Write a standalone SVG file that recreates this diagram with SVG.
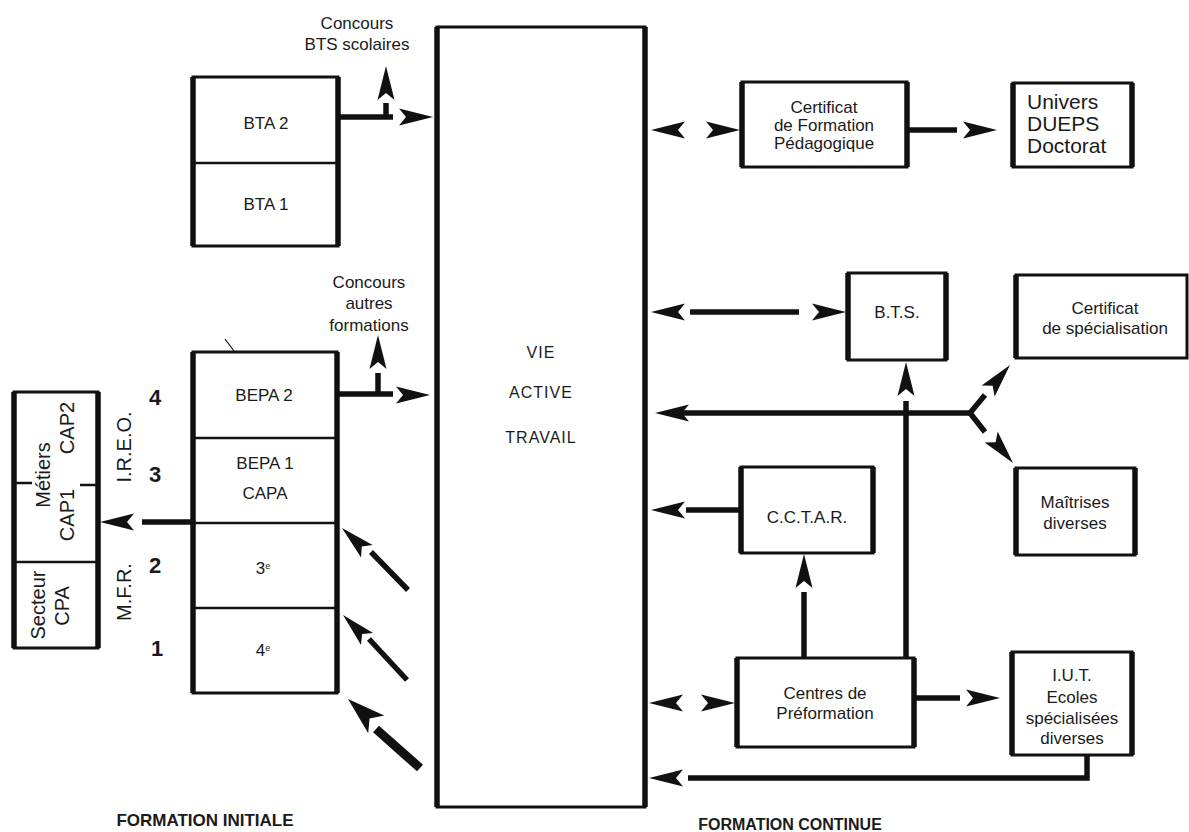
<svg xmlns="http://www.w3.org/2000/svg" xmlns:xlink="http://www.w3.org/1999/xlink" width="1189" height="832" viewBox="0 0 1189 832">
<style>
  .bx{fill:#fff;stroke:#111;stroke-width:3}
  .side{stroke:#111;stroke-width:5.5;fill:none}
  .div{stroke:#111;stroke-width:2.5}
  .t{font-family:"Liberation Sans",Arial,sans-serif;font-size:17px;fill:#1a1a1a;text-anchor:middle}
  .big{font-family:"Liberation Sans",Arial,sans-serif;font-size:21px;fill:#1a1a1a}
  .vie{font-family:"Liberation Sans",Arial,sans-serif;font-size:16px;fill:#1a1a1a;text-anchor:middle;letter-spacing:1px}
  .num{font-family:"Liberation Sans",Arial,sans-serif;font-size:22px;font-weight:bold;fill:#1a1a1a;text-anchor:middle}
  .rot{font-family:"Liberation Sans",Arial,sans-serif;font-size:20px;fill:#1a1a1a;text-anchor:middle}
  .ttl{font-family:"Liberation Sans",Arial,sans-serif;font-weight:bold;fill:#1a1a1a;text-anchor:middle}
  .sh{stroke:#111;stroke-width:5.5;fill:none;stroke-linecap:butt}
  .shk{stroke:#111;stroke-width:9;fill:none;stroke-linecap:butt}
  .ah{fill:#111}
</style>
<defs>
  <path id="ah" d="M0,0 L-34,-8.5 L-27,0 L-34,8.5 Z"/>
  <path id="ahk" d="M0,0 L-38,-12 L-29,0 L-38,12 Z"/>
</defs>
<rect width="1189" height="832" fill="#fff"/>

<g id="vie">
  <rect class="bx" x="437" y="27" width="208" height="780"/>
  <line class="side" x1="437" y1="27" x2="437" y2="807"/>
  <line class="side" x1="645" y1="27" x2="645" y2="807"/>
  <text class="vie" x="541" y="358">VIE</text>
  <text class="vie" x="541" y="398">ACTIVE</text>
  <text class="vie" x="541" y="443">TRAVAIL</text>
</g>

<g id="bta">
  <rect class="bx" x="193" y="77" width="145" height="169"/>
  <line class="side" x1="193" y1="77" x2="193" y2="246"/>
  <line class="side" x1="338" y1="77" x2="338" y2="246"/>
  <line class="div" x1="193" y1="163" x2="338" y2="163"/>
  <text class="t" x="266" y="129">BTA 2</text>
  <text class="t" x="266" y="210">BTA 1</text>
</g>

<g id="bepa">
  <rect class="bx" x="193" y="352" width="144" height="341"/>
  <line class="side" x1="193" y1="352" x2="193" y2="693"/>
  <line class="side" x1="337" y1="352" x2="337" y2="693"/>
  <line class="div" x1="193" y1="438" x2="337" y2="438"/>
  <line class="div" x1="193" y1="523" x2="337" y2="523"/>
  <line class="div" x1="193" y1="608" x2="337" y2="608"/>
  <line stroke="#111" stroke-width="1.2" x1="225" y1="339" x2="234" y2="351"/>
  <text class="t" x="264" y="401">BEPA 2</text>
  <text class="t" x="265" y="469">BEPA 1</text>
  <text class="t" x="265" y="499">CAPA</text>
  <text class="t" x="263" y="574" font-size="15">3<tspan font-size="9" dy="-5">e</tspan></text>
  <text class="t" x="263" y="656" font-size="15">4<tspan font-size="9" dy="-5">e</tspan></text>
  <text class="num" x="155" y="405">4</text>
  <text class="num" x="155" y="482">3</text>
  <text class="num" x="155" y="573">2</text>
  <text class="num" x="157" y="656">1</text>
  <text class="rot" transform="translate(131,447) rotate(-90)" font-size="22">I.R.E.O.</text>
  <text class="rot" transform="translate(131,592) rotate(-90)" font-size="22">M.F.R.</text>
</g>

<g id="cap">
  <rect class="bx" x="14" y="392" width="84" height="256"/>
  <line class="side" x1="14" y1="392" x2="14" y2="648"/>
  <line class="side" x1="98" y1="392" x2="98" y2="648"/>
  <line class="div" x1="14" y1="562" x2="98" y2="562"/>
  <line class="div" x1="14" y1="483" x2="32" y2="483"/>
  <line class="div" x1="80" y1="485" x2="98" y2="485"/>
  <text class="rot" transform="translate(50,475) rotate(-90)">Métiers</text>
  <text class="rot" transform="translate(74,428) rotate(-90)">CAP2</text>
  <text class="rot" transform="translate(74,515) rotate(-90)">CAP1</text>
  <text class="rot" transform="translate(45,605) rotate(-90)">Secteur</text>
  <text class="rot" transform="translate(69,606) rotate(-90)">CPA</text>
</g>

<g id="concours-bts">
  <text class="t" x="357" y="29">Concours</text>
  <text class="t" x="357" y="50">BTS scolaires</text>
</g>
<g id="concours-autres">
  <text class="t" x="369" y="288">Concours</text>
  <text class="t" x="369" y="309">autres</text>
  <text class="t" x="369" y="331">formations</text>
</g>

<g id="cert-form">
  <rect class="bx" x="742" y="82" width="165" height="85"/>
  <line class="side" x1="742" y1="82" x2="742" y2="167"/>
  <line class="side" x1="907" y1="82" x2="907" y2="167"/>
  <text class="t" x="824" y="113">Certificat</text>
  <text class="t" x="824" y="131">de Formation</text>
  <text class="t" x="824" y="149">Pédagogique</text>
</g>

<g id="univers">
  <rect class="bx" x="1013" y="83" width="119" height="84"/>
  <line class="side" x1="1013" y1="83" x2="1013" y2="167"/>
  <line class="side" x1="1132" y1="83" x2="1132" y2="167"/>
  <text class="big" x="1027" y="109">Univers</text>
  <text class="big" x="1027" y="131">DUEPS</text>
  <text class="big" x="1027" y="153">Doctorat</text>
</g>

<g id="bts">
  <rect class="bx" x="848" y="273" width="98" height="87"/>
  <line class="side" x1="848" y1="273" x2="848" y2="360"/>
  <line class="side" x1="946" y1="273" x2="946" y2="360"/>
  <text class="t" x="897" y="318">B.T.S.</text>
</g>

<g id="cert-spec">
  <rect class="bx" x="1016" y="275" width="171" height="83"/>
  <line class="side" x1="1016" y1="275" x2="1016" y2="358"/>
  <text class="t" x="1105" y="314">Certificat</text>
  <text class="t" x="1105" y="334">de spécialisation</text>
</g>

<g id="cctar">
  <rect class="bx" x="741" y="467" width="132" height="86"/>
  <line class="side" x1="741" y1="467" x2="741" y2="553"/>
  <line class="side" x1="873" y1="467" x2="873" y2="553"/>
  <text class="t" x="807" y="523">C.C.T.A.R.</text>
</g>

<g id="maitrises">
  <rect class="bx" x="1016" y="468" width="119" height="87"/>
  <line class="side" x1="1016" y1="468" x2="1016" y2="555"/>
  <line class="side" x1="1135" y1="468" x2="1135" y2="555"/>
  <text class="t" x="1075" y="508">Maîtrises</text>
  <text class="t" x="1075" y="529">diverses</text>
</g>

<g id="centres">
  <rect class="bx" x="737" y="658" width="177" height="89"/>
  <line class="side" x1="737" y1="658" x2="737" y2="747"/>
  <line class="side" x1="914" y1="658" x2="914" y2="747"/>
  <text class="t" x="825" y="699">Centres de</text>
  <text class="t" x="825" y="719">Préformation</text>
</g>

<g id="iut">
  <rect class="bx" x="1012" y="652" width="120" height="103"/>
  <line class="side" x1="1012" y1="652" x2="1012" y2="755"/>
  <line class="side" x1="1132" y1="652" x2="1132" y2="755"/>
  <text class="t" x="1072" y="681">I.U.T.</text>
  <text class="t" x="1072" y="703">Ecoles</text>
  <text class="t" x="1072" y="724">spécialisées</text>
  <text class="t" x="1072" y="744">diverses</text>
</g>

<g id="titles">
  <text class="ttl" x="205" y="826" font-size="17">FORMATION INITIALE</text>
  <text class="ttl" x="790" y="830" font-size="16">FORMATION CONTINUE</text>
</g>

<g id="connectors">
  <!-- BTA 2 to VIE + up to concours -->
  <line class="sh" x1="338" y1="117" x2="393" y2="117"/>
  <use href="#ah" class="ah" transform="translate(433,117)"/>
  <line class="sh" x1="386" y1="119" x2="386" y2="103"/>
  <use href="#ah" class="ah" transform="translate(386,66) rotate(-90)"/>
  <!-- BEPA 2 to VIE + up -->
  <line class="sh" x1="337" y1="394" x2="393" y2="394"/>
  <use href="#ah" class="ah" transform="translate(430,395)"/>
  <line class="sh" x1="378" y1="396" x2="378" y2="373"/>
  <use href="#ah" class="ah" transform="translate(378,335) rotate(-90)"/>
  <!-- BEPA to CAP -->
  <line class="sh" x1="193" y1="522" x2="142" y2="522"/>
  <use href="#ah" class="ah" transform="translate(100,522) rotate(180)"/>
  <!-- diagonal returns -->
  <line class="sh" x1="408" y1="590" x2="371" y2="552"/>
  <use href="#ah" class="ah" transform="translate(342,528) rotate(223)"/>
  <line class="sh" x1="407" y1="680" x2="369" y2="639"/>
  <use href="#ah" class="ah" transform="translate(343,615) rotate(225)"/>
  <line class="shk" x1="420" y1="768" x2="376" y2="729"/>
  <use href="#ahk" class="ah" transform="translate(348,699) rotate(222)"/>
  <!-- VIE <-> Certificat de Formation -->
  <use href="#ah" class="ah" transform="translate(651,130) rotate(180)"/>
  <use href="#ah" class="ah" transform="translate(740,130)"/>
  <line class="sh" x1="907" y1="130" x2="957" y2="130"/>
  <use href="#ah" class="ah" transform="translate(997,130)"/>
  <!-- VIE <-> BTS -->
  <use href="#ah" class="ah" transform="translate(651,312) rotate(180)"/>
  <line class="sh" x1="690" y1="312" x2="799" y2="312"/>
  <use href="#ah" class="ah" transform="translate(846,312)"/>
  <!-- Y line -->
  <use href="#ah" class="ah" transform="translate(655,413) rotate(180)"/>
  <line class="sh" x1="682" y1="413" x2="970" y2="413"/>
  <polyline class="sh" points="985,395 970,413 985,432"/>
  <use href="#ah" class="ah" transform="translate(1010,365) rotate(-50)"/>
  <use href="#ah" class="ah" transform="translate(1013,463) rotate(50)"/>
  <!-- Centres up to BTS -->
  <line class="sh" x1="906" y1="658" x2="906" y2="401"/>
  <use href="#ah" class="ah" transform="translate(906,362) rotate(-90)"/>
  <!-- CCTAR to VIE -->
  <line class="sh" x1="741" y1="510" x2="686" y2="510"/>
  <use href="#ah" class="ah" transform="translate(651,510) rotate(180)"/>
  <!-- Centres to CCTAR -->
  <line class="sh" x1="804" y1="658" x2="804" y2="592"/>
  <use href="#ah" class="ah" transform="translate(804,554) rotate(-90)"/>
  <!-- VIE <-> Centres -->
  <use href="#ah" class="ah" transform="translate(649,703) rotate(180)"/>
  <use href="#ah" class="ah" transform="translate(735,703)"/>
  <!-- Centres to IUT -->
  <line class="sh" x1="914" y1="698" x2="960" y2="698"/>
  <use href="#ah" class="ah" transform="translate(1000,698)"/>
  <!-- IUT back to VIE -->
  <polyline class="sh" points="1087,755 1087,778 688,778"/>
  <use href="#ah" class="ah" transform="translate(649,778) rotate(180)"/>
</g>
</svg>
